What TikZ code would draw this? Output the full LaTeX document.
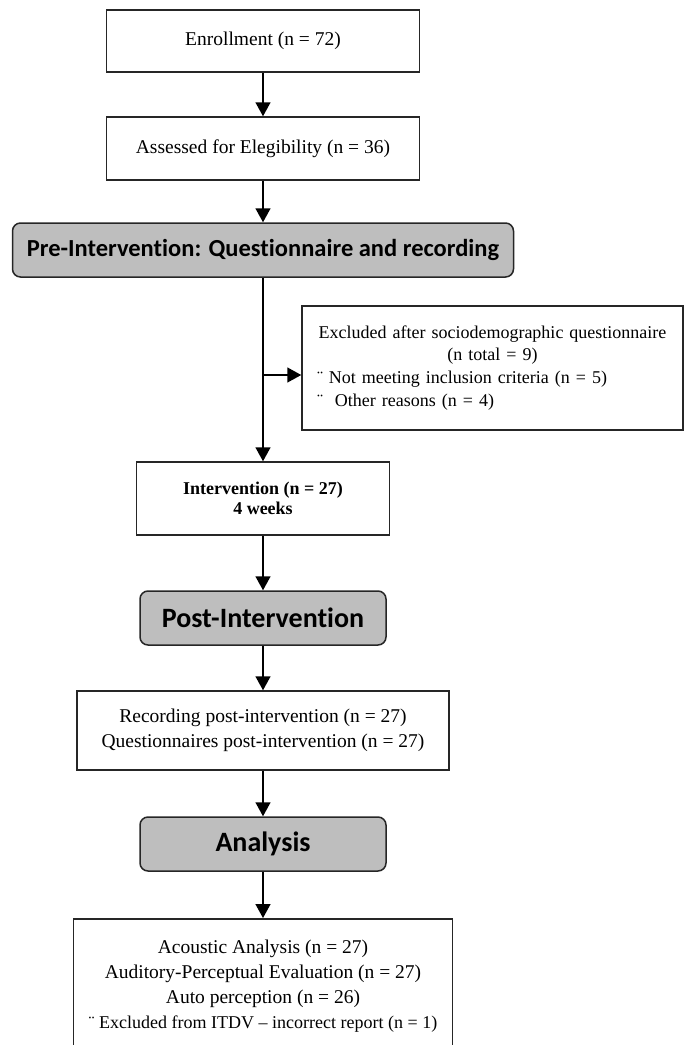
\documentclass[tikz,border=0pt]{standalone}
\usepackage{fontspec}
\setmainfont{Liberation Serif}
\newfontfamily\headfont[Ligatures=NoCommon]{Carlito}
\usetikzlibrary{arrows.meta, positioning}
\definecolor{headgray}{RGB}{190,190,190}

\begin{document}
\begin{tikzpicture}[
  x=1pt, y=-1pt,
  box/.style={draw=black!85, line width=1.5pt, inner sep=0pt, align=center,
    font=\fontsize{19.5}{25}\selectfont},
  head/.style={box, rounded corners=8pt, fill=headgray,
    font=\headfont\bfseries\fontsize{28}{32}\selectfont},
  arr/.style={line width=1.5pt, -{Triangle[length=14pt,width=15pt]}}]

  \useasboundingbox (0,0) rectangle (690,1045);

  \node[box, minimum width=313pt, minimum height=62pt] (enroll) at (263,41) {Enrollment (n = 72)};
  \node[box, minimum width=313pt, minimum height=63pt] (assess) at (263,148.5) {Assessed for Elegibility (n = 36)};
  \node[head, minimum width=501pt, minimum height=54pt,
    font=\headfont\bfseries\fontsize{24.5}{28}\selectfont] (pre) at (263,250) {Pre-Intervention: Questionnaire and recording};
  \node[box, anchor=north, text width=351pt, inner xsep=15pt, minimum height=124pt, align=left,
    font=\fontsize{18}{22.7}\selectfont] (excl) at (492.5,305)
    {\hfil Excluded after sociodemographic questionnaire\hfil\\
     \hfil (n total = 9)\hfil\\
     ¨ Not meeting inclusion criteria (n = 5)\\
     ¨\ \ Other reasons (n = 4)};
  \node[box, minimum width=253pt, minimum height=73pt,
    font=\bfseries\fontsize{18}{20}\selectfont] (interv) at (263,498.5) {Intervention (n = 27)\\4 weeks};
  \node[head, minimum width=246pt, minimum height=54pt] (post) at (263,618) {Post-Intervention};
  \node[box, minimum width=372pt, minimum height=79pt] (record) at (263,730.5)
    {Recording post-intervention (n = 27)\\Questionnaires post-intervention (n = 27)};
  \node[head, minimum width=246pt, minimum height=54pt] (analysis) at (263,844) {Analysis};
  \node[box, anchor=north, minimum width=379pt, inner ysep=21pt] (result) at (263,918)
    {Acoustic Analysis (n = 27)\\
     Auditory-Perceptual Evaluation (n = 27)\\
     Auto perception (n = 26)\\
     {\fontsize{18}{25}\selectfont ¨ Excluded from ITDV -- incorrect report (n = 1)}};

  \coordinate (split) at (263,375);

  \draw[arr] (enroll) -- (assess);
  \draw[arr] (assess) -- (pre);
  \draw[arr] (pre) -- (interv);
  \draw[arr] (split) -- (split -| excl.west);
  \draw[arr] (interv) -- (post);
  \draw[arr] (post) -- (record);
  \draw[arr] (record) -- (analysis);
  \draw[arr] (analysis) -- (result);
\end{tikzpicture}
\end{document}
